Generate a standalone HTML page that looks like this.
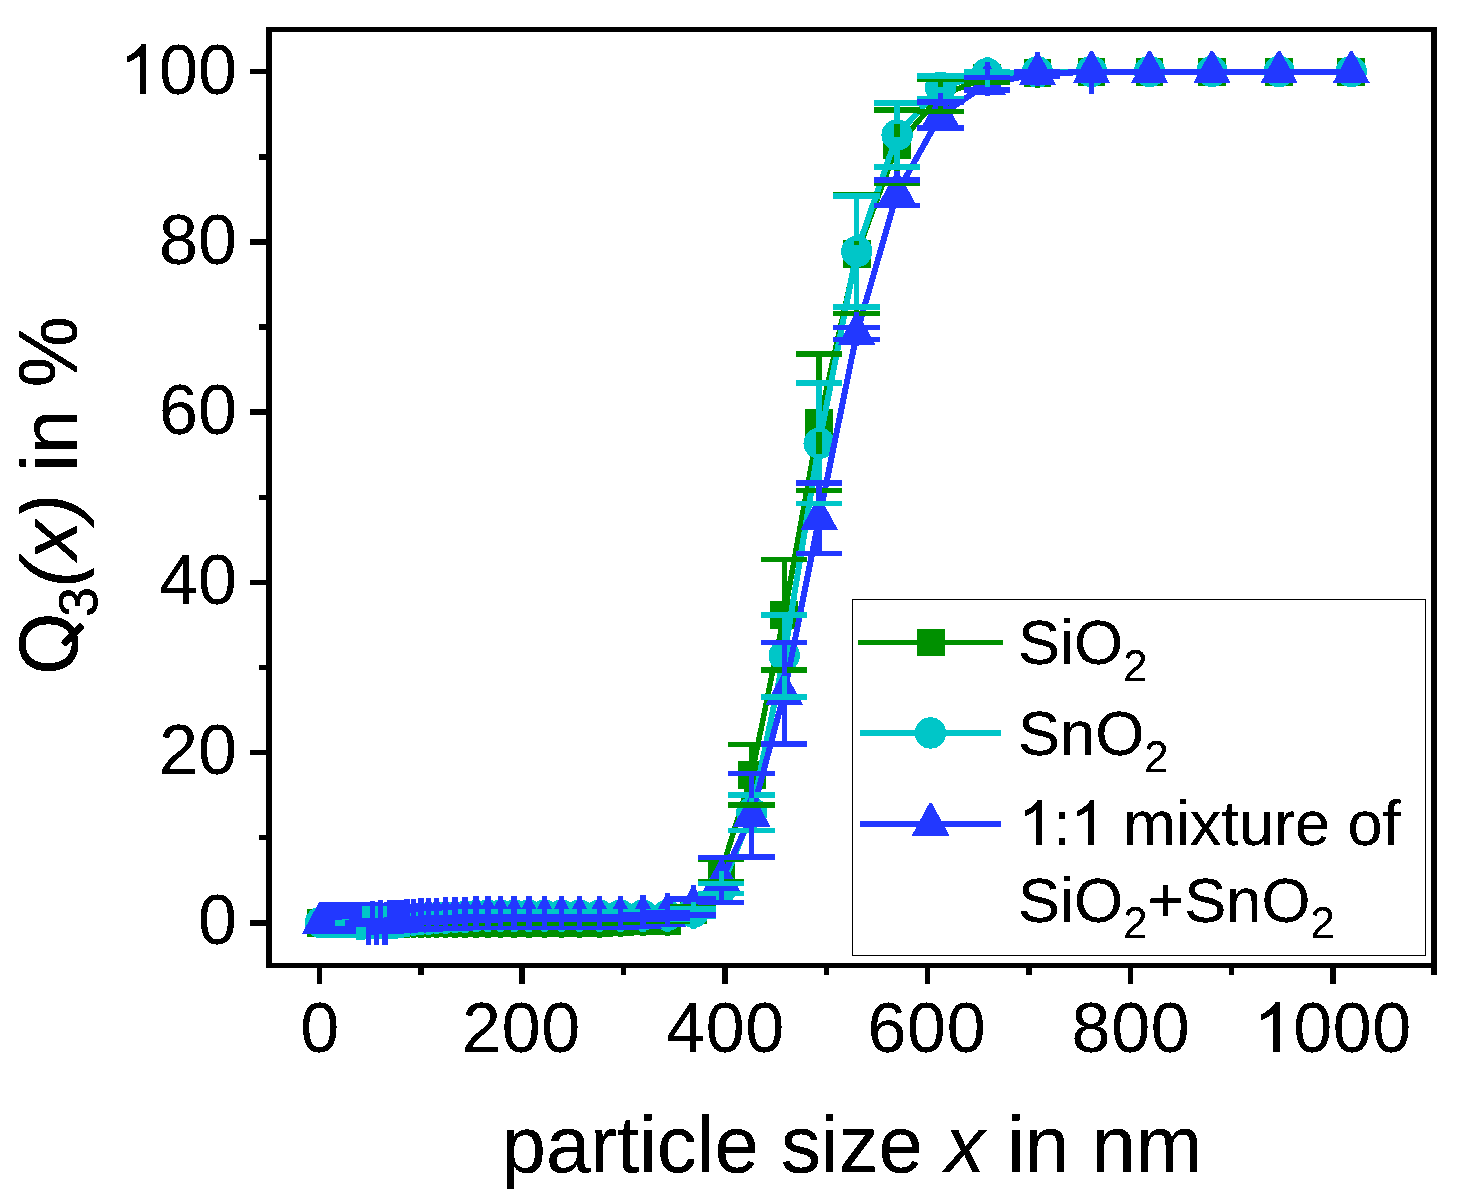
<!DOCTYPE html>
<html lang="en">
<head>
<meta charset="utf-8">
<title>Q3(x) cumulative particle size distribution</title>
<style>
html,body{margin:0;padding:0;background:#ffffff;}
body{width:1459px;height:1200px;overflow:hidden;font-family:"Liberation Sans",sans-serif;}
svg text{font-family:"Liberation Sans",sans-serif;fill:#000;}
</style>
</head>
<body>
<svg width="1459" height="1200" viewBox="0 0 1459 1200" style="display:block;font-family:'Liberation Sans',sans-serif">
<rect x="0.00" y="0.00" width="1459.00" height="1200.00" fill="#ffffff"/>
<defs><filter id="bin" x="0" y="0" width="1459" height="1200" filterUnits="userSpaceOnUse" color-interpolation-filters="sRGB"><feComponentTransfer><feFuncA type="discrete" tableValues="0 1 1"/></feComponentTransfer></filter><filter id="bin50" x="0" y="0" width="1459" height="1200" filterUnits="userSpaceOnUse" color-interpolation-filters="sRGB"><feComponentTransfer><feFuncA type="discrete" tableValues="0 0 1 1 1"/></feComponentTransfer></filter></defs>
<g shape-rendering="crispEdges">
<polyline points="1351.24,71.85 1279.08,71.85 1211.97,71.85 1149.55,71.85 1091.50,71.85 1037.50,73.00 987.28,77.30 940.58,95.50 897.14,145.50 856.74,254.00 819.17,422.30 784.22,614.85 751.72,774.80 721.49,870.45 693.37,910.20 667.22,920.90 642.90,921.30 620.28,922.00 599.25,923.10 579.68,923.10 561.48,923.10 544.56,923.10 528.82,923.10 514.18,923.10 500.56,923.10 487.90,923.10 476.12,923.10 465.17,923.10 454.98,923.10 445.50,923.10 436.69,923.10 428.49,923.10 420.87,923.10 413.78,923.10 407.19,923.10 401.05,922.90 395.35,922.90 390.05,922.90 385.11,922.90 380.52,922.90 376.25,922.90 372.29,922.90 368.59,922.90 365.16,922.90 361.97,922.90 359.00,922.90 356.23,922.90 353.66,922.90 351.28,922.90 349.05,922.90 346.99,922.90 345.06,922.90 343.28,922.90 341.61,922.90 340.07,922.90 338.63,922.90 337.29,922.90 336.05,922.90 334.89,922.90 333.81,922.90 332.81,922.90 331.88,922.90 331.01,922.90 330.21,922.90 329.46,922.90 328.76,922.90 328.12,922.90 327.51,922.90 326.95,922.90 326.43,922.90 325.95,922.90 325.50,922.90 325.08,922.90 324.69,922.90 324.32,922.90 323.99,922.90 323.67,922.90 323.38,922.90 323.11,922.90 322.86,922.90 322.62,922.90 322.40,922.90 322.20,922.90 322.01,922.90 321.84,922.90 321.67,922.90 321.52,922.90 321.38,922.90 321.25,922.90 321.13,922.90 321.01,922.90 320.91,922.90 320.81,922.90 320.72,922.90 320.63,922.90 320.55,922.90" fill="none" stroke="#009000" stroke-width="5.5" stroke-linejoin="round"/>
<rect x="306.75" y="909.10" width="27.60" height="27.60" fill="#009000"/>
<rect x="306.83" y="909.10" width="27.60" height="27.60" fill="#009000"/>
<rect x="306.92" y="909.10" width="27.60" height="27.60" fill="#009000"/>
<rect x="307.01" y="909.10" width="27.60" height="27.60" fill="#009000"/>
<rect x="307.11" y="909.10" width="27.60" height="27.60" fill="#009000"/>
<rect x="307.21" y="909.10" width="27.60" height="27.60" fill="#009000"/>
<rect x="307.33" y="909.10" width="27.60" height="27.60" fill="#009000"/>
<rect x="307.45" y="909.10" width="27.60" height="27.60" fill="#009000"/>
<rect x="307.58" y="909.10" width="27.60" height="27.60" fill="#009000"/>
<rect x="307.72" y="909.10" width="27.60" height="27.60" fill="#009000"/>
<rect x="307.87" y="909.10" width="27.60" height="27.60" fill="#009000"/>
<rect x="308.04" y="909.10" width="27.60" height="27.60" fill="#009000"/>
<rect x="308.21" y="909.10" width="27.60" height="27.60" fill="#009000"/>
<rect x="308.40" y="909.10" width="27.60" height="27.60" fill="#009000"/>
<rect x="308.60" y="909.10" width="27.60" height="27.60" fill="#009000"/>
<rect x="308.82" y="909.10" width="27.60" height="27.60" fill="#009000"/>
<rect x="309.06" y="909.10" width="27.60" height="27.60" fill="#009000"/>
<rect x="309.31" y="909.10" width="27.60" height="27.60" fill="#009000"/>
<rect x="309.58" y="909.10" width="27.60" height="27.60" fill="#009000"/>
<rect x="309.87" y="909.10" width="27.60" height="27.60" fill="#009000"/>
<rect x="310.19" y="909.10" width="27.60" height="27.60" fill="#009000"/>
<rect x="310.52" y="909.10" width="27.60" height="27.60" fill="#009000"/>
<rect x="310.89" y="909.10" width="27.60" height="27.60" fill="#009000"/>
<rect x="311.28" y="909.10" width="27.60" height="27.60" fill="#009000"/>
<rect x="311.70" y="909.10" width="27.60" height="27.60" fill="#009000"/>
<rect x="312.15" y="909.10" width="27.60" height="27.60" fill="#009000"/>
<rect x="312.63" y="909.10" width="27.60" height="27.60" fill="#009000"/>
<rect x="313.15" y="909.10" width="27.60" height="27.60" fill="#009000"/>
<rect x="313.71" y="909.10" width="27.60" height="27.60" fill="#009000"/>
<rect x="314.32" y="909.10" width="27.60" height="27.60" fill="#009000"/>
<rect x="314.96" y="909.10" width="27.60" height="27.60" fill="#009000"/>
<rect x="315.66" y="909.10" width="27.60" height="27.60" fill="#009000"/>
<rect x="316.41" y="909.10" width="27.60" height="27.60" fill="#009000"/>
<rect x="317.21" y="909.10" width="27.60" height="27.60" fill="#009000"/>
<rect x="318.08" y="909.10" width="27.60" height="27.60" fill="#009000"/>
<rect x="319.01" y="909.10" width="27.60" height="27.60" fill="#009000"/>
<rect x="320.01" y="909.10" width="27.60" height="27.60" fill="#009000"/>
<rect x="321.09" y="909.10" width="27.60" height="27.60" fill="#009000"/>
<rect x="322.25" y="909.10" width="27.60" height="27.60" fill="#009000"/>
<rect x="323.49" y="909.10" width="27.60" height="27.60" fill="#009000"/>
<rect x="324.83" y="909.10" width="27.60" height="27.60" fill="#009000"/>
<rect x="326.27" y="909.10" width="27.60" height="27.60" fill="#009000"/>
<rect x="327.81" y="909.10" width="27.60" height="27.60" fill="#009000"/>
<rect x="329.48" y="909.10" width="27.60" height="27.60" fill="#009000"/>
<rect x="331.26" y="909.10" width="27.60" height="27.60" fill="#009000"/>
<rect x="333.19" y="909.10" width="27.60" height="27.60" fill="#009000"/>
<rect x="335.25" y="909.10" width="27.60" height="27.60" fill="#009000"/>
<rect x="337.48" y="909.10" width="27.60" height="27.60" fill="#009000"/>
<rect x="339.86" y="909.10" width="27.60" height="27.60" fill="#009000"/>
<rect x="342.43" y="909.10" width="27.60" height="27.60" fill="#009000"/>
<rect x="345.20" y="909.10" width="27.60" height="27.60" fill="#009000"/>
<rect x="348.17" y="909.10" width="27.60" height="27.60" fill="#009000"/>
<rect x="351.36" y="909.10" width="27.60" height="27.60" fill="#009000"/>
<rect x="354.79" y="909.10" width="27.60" height="27.60" fill="#009000"/>
<rect x="358.49" y="909.10" width="27.60" height="27.60" fill="#009000"/>
<rect x="362.45" y="909.10" width="27.60" height="27.60" fill="#009000"/>
<rect x="366.72" y="909.10" width="27.60" height="27.60" fill="#009000"/>
<rect x="371.31" y="909.10" width="27.60" height="27.60" fill="#009000"/>
<rect x="376.25" y="909.10" width="27.60" height="27.60" fill="#009000"/>
<rect x="381.55" y="909.10" width="27.60" height="27.60" fill="#009000"/>
<rect x="387.25" y="909.10" width="27.60" height="27.60" fill="#009000"/>
<rect x="393.39" y="909.30" width="27.60" height="27.60" fill="#009000"/>
<rect x="399.98" y="909.30" width="27.60" height="27.60" fill="#009000"/>
<rect x="407.07" y="909.30" width="27.60" height="27.60" fill="#009000"/>
<rect x="414.69" y="909.30" width="27.60" height="27.60" fill="#009000"/>
<rect x="422.89" y="909.30" width="27.60" height="27.60" fill="#009000"/>
<rect x="431.70" y="909.30" width="27.60" height="27.60" fill="#009000"/>
<rect x="441.18" y="909.30" width="27.60" height="27.60" fill="#009000"/>
<rect x="451.37" y="909.30" width="27.60" height="27.60" fill="#009000"/>
<rect x="462.32" y="909.30" width="27.60" height="27.60" fill="#009000"/>
<rect x="474.10" y="909.30" width="27.60" height="27.60" fill="#009000"/>
<rect x="486.76" y="909.30" width="27.60" height="27.60" fill="#009000"/>
<rect x="500.38" y="909.30" width="27.60" height="27.60" fill="#009000"/>
<rect x="515.02" y="909.30" width="27.60" height="27.60" fill="#009000"/>
<rect x="530.76" y="909.30" width="27.60" height="27.60" fill="#009000"/>
<rect x="547.68" y="909.30" width="27.60" height="27.60" fill="#009000"/>
<rect x="565.88" y="909.30" width="27.60" height="27.60" fill="#009000"/>
<rect x="585.45" y="909.30" width="27.60" height="27.60" fill="#009000"/>
<rect x="606.48" y="908.20" width="27.60" height="27.60" fill="#009000"/>
<rect x="629.10" y="907.50" width="27.60" height="27.60" fill="#009000"/>
<rect x="653.42" y="907.10" width="27.60" height="27.60" fill="#009000"/>
<rect x="679.57" y="896.40" width="27.60" height="27.60" fill="#009000"/>
<rect x="707.69" y="856.65" width="27.60" height="27.60" fill="#009000"/>
<rect x="737.92" y="761.00" width="27.60" height="27.60" fill="#009000"/>
<rect x="770.42" y="601.05" width="27.60" height="27.60" fill="#009000"/>
<rect x="805.37" y="408.50" width="27.60" height="27.60" fill="#009000"/>
<rect x="842.94" y="240.20" width="27.60" height="27.60" fill="#009000"/>
<rect x="883.34" y="131.70" width="27.60" height="27.60" fill="#009000"/>
<rect x="926.78" y="81.70" width="27.60" height="27.60" fill="#009000"/>
<rect x="973.48" y="63.50" width="27.60" height="27.60" fill="#009000"/>
<rect x="1023.70" y="59.20" width="27.60" height="27.60" fill="#009000"/>
<rect x="1077.70" y="58.05" width="27.60" height="27.60" fill="#009000"/>
<rect x="1135.75" y="58.05" width="27.60" height="27.60" fill="#009000"/>
<rect x="1198.17" y="58.05" width="27.60" height="27.60" fill="#009000"/>
<rect x="1265.28" y="58.05" width="27.60" height="27.60" fill="#009000"/>
<rect x="1337.44" y="58.05" width="27.60" height="27.60" fill="#009000"/>
<polyline points="1351.24,71.50 1279.08,71.50 1211.97,71.50 1149.55,71.50 1091.50,71.50 1037.50,72.00 987.28,73.50 940.58,87.20 897.14,135.00 856.74,251.50 819.17,443.25 784.22,655.80 751.72,812.70 721.49,888.45 693.37,912.30 667.22,915.30 642.90,915.20 620.28,915.20 599.25,915.20 579.68,915.20 561.48,915.20 544.56,915.20 528.82,915.20 514.18,915.20 500.56,915.20 487.90,915.20 476.12,915.69 465.17,916.35 454.98,916.86 445.50,917.37 436.69,917.88 428.49,918.54 420.87,918.70 413.78,919.37 407.19,920.08 401.05,921.30 395.35,922.70 390.05,922.70 385.11,922.70 380.52,922.70 376.25,922.70 372.29,922.70 368.59,922.70 365.16,922.70 361.97,922.90 359.00,922.90 356.23,922.50 353.66,922.50 351.28,922.50 349.05,922.50 346.99,922.50 345.06,922.50 343.28,922.50 341.61,922.50 340.07,922.50 338.63,922.50 337.29,922.50 336.05,922.50 334.89,922.50 333.81,922.50 332.81,922.50 331.88,922.50 331.01,922.50 330.21,922.50 329.46,922.50 328.76,922.50 328.12,922.50 327.51,922.50 326.95,922.50 326.43,922.50 325.95,922.50 325.50,922.50 325.08,922.50 324.69,922.50 324.32,922.50 323.99,922.50 323.67,922.50 323.38,922.50 323.11,922.50 322.86,922.50 322.62,922.50 322.40,922.50 322.20,922.50 322.01,922.50 321.84,922.50 321.67,922.50 321.52,922.50 321.38,922.50 321.25,922.50 321.13,922.50 321.01,922.50 320.91,922.50 320.81,922.50 320.72,922.50 320.63,922.50 320.55,922.50" fill="none" stroke="#00C6C8" stroke-width="6.0" stroke-linejoin="round"/>
<circle cx="320.55" cy="922.50" r="15.7" fill="#00C6C8"/>
<circle cx="320.63" cy="922.50" r="15.7" fill="#00C6C8"/>
<circle cx="320.72" cy="922.50" r="15.7" fill="#00C6C8"/>
<circle cx="320.81" cy="922.50" r="15.7" fill="#00C6C8"/>
<circle cx="320.91" cy="922.50" r="15.7" fill="#00C6C8"/>
<circle cx="321.01" cy="922.50" r="15.7" fill="#00C6C8"/>
<circle cx="321.13" cy="922.50" r="15.7" fill="#00C6C8"/>
<circle cx="321.25" cy="922.50" r="15.7" fill="#00C6C8"/>
<circle cx="321.38" cy="922.50" r="15.7" fill="#00C6C8"/>
<circle cx="321.52" cy="922.50" r="15.7" fill="#00C6C8"/>
<circle cx="321.67" cy="922.50" r="15.7" fill="#00C6C8"/>
<circle cx="321.84" cy="922.50" r="15.7" fill="#00C6C8"/>
<circle cx="322.01" cy="922.50" r="15.7" fill="#00C6C8"/>
<circle cx="322.20" cy="922.50" r="15.7" fill="#00C6C8"/>
<circle cx="322.40" cy="922.50" r="15.7" fill="#00C6C8"/>
<circle cx="322.62" cy="922.50" r="15.7" fill="#00C6C8"/>
<circle cx="322.86" cy="922.50" r="15.7" fill="#00C6C8"/>
<circle cx="323.11" cy="922.50" r="15.7" fill="#00C6C8"/>
<circle cx="323.38" cy="922.50" r="15.7" fill="#00C6C8"/>
<circle cx="323.67" cy="922.50" r="15.7" fill="#00C6C8"/>
<circle cx="323.99" cy="922.50" r="15.7" fill="#00C6C8"/>
<circle cx="324.32" cy="922.50" r="15.7" fill="#00C6C8"/>
<circle cx="324.69" cy="922.50" r="15.7" fill="#00C6C8"/>
<circle cx="325.08" cy="922.50" r="15.7" fill="#00C6C8"/>
<circle cx="325.50" cy="922.50" r="15.7" fill="#00C6C8"/>
<circle cx="325.95" cy="922.50" r="15.7" fill="#00C6C8"/>
<circle cx="326.43" cy="922.50" r="15.7" fill="#00C6C8"/>
<circle cx="326.95" cy="922.50" r="15.7" fill="#00C6C8"/>
<circle cx="327.51" cy="922.50" r="15.7" fill="#00C6C8"/>
<circle cx="328.12" cy="922.50" r="15.7" fill="#00C6C8"/>
<circle cx="328.76" cy="922.50" r="15.7" fill="#00C6C8"/>
<circle cx="329.46" cy="922.50" r="15.7" fill="#00C6C8"/>
<circle cx="330.21" cy="922.50" r="15.7" fill="#00C6C8"/>
<circle cx="331.01" cy="922.50" r="15.7" fill="#00C6C8"/>
<circle cx="331.88" cy="922.50" r="15.7" fill="#00C6C8"/>
<circle cx="332.81" cy="922.50" r="15.7" fill="#00C6C8"/>
<circle cx="333.81" cy="922.50" r="15.7" fill="#00C6C8"/>
<circle cx="334.89" cy="922.50" r="15.7" fill="#00C6C8"/>
<circle cx="336.05" cy="922.50" r="15.7" fill="#00C6C8"/>
<circle cx="337.29" cy="922.50" r="15.7" fill="#00C6C8"/>
<circle cx="338.63" cy="922.50" r="15.7" fill="#00C6C8"/>
<circle cx="340.07" cy="922.50" r="15.7" fill="#00C6C8"/>
<circle cx="341.61" cy="922.50" r="15.7" fill="#00C6C8"/>
<circle cx="343.28" cy="922.50" r="15.7" fill="#00C6C8"/>
<circle cx="345.06" cy="922.50" r="15.7" fill="#00C6C8"/>
<circle cx="346.99" cy="922.50" r="15.7" fill="#00C6C8"/>
<circle cx="349.05" cy="922.50" r="15.7" fill="#00C6C8"/>
<circle cx="351.28" cy="922.50" r="15.7" fill="#00C6C8"/>
<circle cx="353.66" cy="922.50" r="15.7" fill="#00C6C8"/>
<circle cx="356.23" cy="922.50" r="15.7" fill="#00C6C8"/>
<circle cx="359.00" cy="922.90" r="15.7" fill="#00C6C8"/>
<circle cx="361.97" cy="922.90" r="15.7" fill="#00C6C8"/>
<circle cx="365.16" cy="922.70" r="15.7" fill="#00C6C8"/>
<circle cx="368.59" cy="922.70" r="15.7" fill="#00C6C8"/>
<circle cx="372.29" cy="922.70" r="15.7" fill="#00C6C8"/>
<circle cx="376.25" cy="922.70" r="15.7" fill="#00C6C8"/>
<circle cx="380.52" cy="922.70" r="15.7" fill="#00C6C8"/>
<circle cx="385.11" cy="922.70" r="15.7" fill="#00C6C8"/>
<circle cx="390.05" cy="922.70" r="15.7" fill="#00C6C8"/>
<circle cx="395.35" cy="922.70" r="15.7" fill="#00C6C8"/>
<circle cx="401.05" cy="921.30" r="15.7" fill="#00C6C8"/>
<circle cx="407.19" cy="920.08" r="15.7" fill="#00C6C8"/>
<circle cx="413.78" cy="919.37" r="15.7" fill="#00C6C8"/>
<circle cx="420.87" cy="918.70" r="15.7" fill="#00C6C8"/>
<circle cx="428.49" cy="918.54" r="15.7" fill="#00C6C8"/>
<circle cx="436.69" cy="917.88" r="15.7" fill="#00C6C8"/>
<circle cx="445.50" cy="917.37" r="15.7" fill="#00C6C8"/>
<circle cx="454.98" cy="916.86" r="15.7" fill="#00C6C8"/>
<circle cx="465.17" cy="916.35" r="15.7" fill="#00C6C8"/>
<circle cx="476.12" cy="915.69" r="15.7" fill="#00C6C8"/>
<circle cx="487.90" cy="915.20" r="15.7" fill="#00C6C8"/>
<circle cx="500.56" cy="915.20" r="15.7" fill="#00C6C8"/>
<circle cx="514.18" cy="915.20" r="15.7" fill="#00C6C8"/>
<circle cx="528.82" cy="915.20" r="15.7" fill="#00C6C8"/>
<circle cx="544.56" cy="915.20" r="15.7" fill="#00C6C8"/>
<circle cx="561.48" cy="915.20" r="15.7" fill="#00C6C8"/>
<circle cx="579.68" cy="915.20" r="15.7" fill="#00C6C8"/>
<circle cx="599.25" cy="915.20" r="15.7" fill="#00C6C8"/>
<circle cx="620.28" cy="915.20" r="15.7" fill="#00C6C8"/>
<circle cx="642.90" cy="915.20" r="15.7" fill="#00C6C8"/>
<circle cx="667.22" cy="915.30" r="15.7" fill="#00C6C8"/>
<circle cx="693.37" cy="912.30" r="15.7" fill="#00C6C8"/>
<circle cx="721.49" cy="888.45" r="15.7" fill="#00C6C8"/>
<circle cx="751.72" cy="812.70" r="15.7" fill="#00C6C8"/>
<circle cx="784.22" cy="655.80" r="15.7" fill="#00C6C8"/>
<circle cx="819.17" cy="443.25" r="15.7" fill="#00C6C8"/>
<circle cx="856.74" cy="251.50" r="15.7" fill="#00C6C8"/>
<circle cx="897.14" cy="135.00" r="15.7" fill="#00C6C8"/>
<circle cx="940.58" cy="87.20" r="15.7" fill="#00C6C8"/>
<circle cx="987.28" cy="73.50" r="15.7" fill="#00C6C8"/>
<circle cx="1037.50" cy="72.00" r="15.7" fill="#00C6C8"/>
<circle cx="1091.50" cy="71.50" r="15.7" fill="#00C6C8"/>
<circle cx="1149.55" cy="71.50" r="15.7" fill="#00C6C8"/>
<circle cx="1211.97" cy="71.50" r="15.7" fill="#00C6C8"/>
<circle cx="1279.08" cy="71.50" r="15.7" fill="#00C6C8"/>
<circle cx="1351.24" cy="71.50" r="15.7" fill="#00C6C8"/>
<polyline points="1351.24,71.90 1279.08,71.90 1211.97,71.90 1149.55,71.90 1091.50,71.90 1037.50,73.70 987.28,83.70 940.58,115.10 897.14,192.65 856.74,333.50 819.17,518.35 784.22,693.45 751.72,815.25 721.49,879.90 693.37,907.20 667.22,915.20 642.90,917.20 620.28,918.10 599.25,918.10 579.68,918.10 561.48,918.10 544.56,918.10 528.82,918.10 514.18,918.10 500.56,918.10 487.90,918.10 476.12,918.42 465.17,918.74 454.98,919.07 445.50,919.39 436.69,919.71 428.49,920.03 420.87,920.36 413.78,920.68 407.19,921.00 401.05,921.60 395.35,922.00 390.05,922.00 385.11,922.80 380.52,922.00 376.25,922.80 372.29,922.80 368.59,922.80 365.16,922.60 361.97,922.60 359.00,922.60 356.23,922.60 353.66,922.60 351.28,922.60 349.05,922.60 346.99,922.60 345.06,922.60 343.28,922.60 341.61,922.60 340.07,922.60 338.63,922.60 337.29,922.60 336.05,922.60 334.89,922.60 333.81,922.60 332.81,922.60 331.88,922.60 331.01,922.60 330.21,922.60 329.46,922.60 328.76,922.60 328.12,922.60 327.51,922.60 326.95,922.60 326.43,922.60 325.95,922.60 325.50,922.60 325.08,922.60 324.69,922.60 324.32,922.60 323.99,922.60 323.67,922.60 323.38,922.60 323.11,922.60 322.86,922.60 322.62,922.60 322.40,922.60 322.20,922.60 322.01,922.60 321.84,922.60 321.67,922.60 321.52,922.60 321.38,922.60 321.25,922.60 321.13,922.60 321.01,922.60 320.91,922.60 320.81,922.60 320.72,922.60 320.63,922.60 320.55,922.60" fill="none" stroke="#2238FF" stroke-width="6.0" stroke-linejoin="round"/>
<polygon points="319.35,901.60 321.75,901.60 339.30,934.10 301.80,934.10" fill="#2238FF"/>
<polygon points="319.43,901.60 321.83,901.60 339.38,934.10 301.88,934.10" fill="#2238FF"/>
<polygon points="319.52,901.60 321.92,901.60 339.47,934.10 301.97,934.10" fill="#2238FF"/>
<polygon points="319.61,901.60 322.01,901.60 339.56,934.10 302.06,934.10" fill="#2238FF"/>
<polygon points="319.71,901.60 322.11,901.60 339.66,934.10 302.16,934.10" fill="#2238FF"/>
<polygon points="319.81,901.60 322.21,901.60 339.76,934.10 302.26,934.10" fill="#2238FF"/>
<polygon points="319.93,901.60 322.33,901.60 339.88,934.10 302.38,934.10" fill="#2238FF"/>
<polygon points="320.05,901.60 322.45,901.60 340.00,934.10 302.50,934.10" fill="#2238FF"/>
<polygon points="320.18,901.60 322.58,901.60 340.13,934.10 302.63,934.10" fill="#2238FF"/>
<polygon points="320.32,901.60 322.72,901.60 340.27,934.10 302.77,934.10" fill="#2238FF"/>
<polygon points="320.47,901.60 322.87,901.60 340.42,934.10 302.92,934.10" fill="#2238FF"/>
<polygon points="320.64,901.60 323.04,901.60 340.59,934.10 303.09,934.10" fill="#2238FF"/>
<polygon points="320.81,901.60 323.21,901.60 340.76,934.10 303.26,934.10" fill="#2238FF"/>
<polygon points="321.00,901.60 323.40,901.60 340.95,934.10 303.45,934.10" fill="#2238FF"/>
<polygon points="321.20,901.60 323.60,901.60 341.15,934.10 303.65,934.10" fill="#2238FF"/>
<polygon points="321.42,901.60 323.82,901.60 341.37,934.10 303.87,934.10" fill="#2238FF"/>
<polygon points="321.66,901.60 324.06,901.60 341.61,934.10 304.11,934.10" fill="#2238FF"/>
<polygon points="321.91,901.60 324.31,901.60 341.86,934.10 304.36,934.10" fill="#2238FF"/>
<polygon points="322.18,901.60 324.58,901.60 342.13,934.10 304.63,934.10" fill="#2238FF"/>
<polygon points="322.47,901.60 324.87,901.60 342.42,934.10 304.92,934.10" fill="#2238FF"/>
<polygon points="322.79,901.60 325.19,901.60 342.74,934.10 305.24,934.10" fill="#2238FF"/>
<polygon points="323.12,901.60 325.52,901.60 343.07,934.10 305.57,934.10" fill="#2238FF"/>
<polygon points="323.49,901.60 325.89,901.60 343.44,934.10 305.94,934.10" fill="#2238FF"/>
<polygon points="323.88,901.60 326.28,901.60 343.83,934.10 306.33,934.10" fill="#2238FF"/>
<polygon points="324.30,901.60 326.70,901.60 344.25,934.10 306.75,934.10" fill="#2238FF"/>
<polygon points="324.75,901.60 327.15,901.60 344.70,934.10 307.20,934.10" fill="#2238FF"/>
<polygon points="325.23,901.60 327.63,901.60 345.18,934.10 307.68,934.10" fill="#2238FF"/>
<polygon points="325.75,901.60 328.15,901.60 345.70,934.10 308.20,934.10" fill="#2238FF"/>
<polygon points="326.31,901.60 328.71,901.60 346.26,934.10 308.76,934.10" fill="#2238FF"/>
<polygon points="326.92,901.60 329.32,901.60 346.87,934.10 309.37,934.10" fill="#2238FF"/>
<polygon points="327.56,901.60 329.96,901.60 347.51,934.10 310.01,934.10" fill="#2238FF"/>
<polygon points="328.26,901.60 330.66,901.60 348.21,934.10 310.71,934.10" fill="#2238FF"/>
<polygon points="329.01,901.60 331.41,901.60 348.96,934.10 311.46,934.10" fill="#2238FF"/>
<polygon points="329.81,901.60 332.21,901.60 349.76,934.10 312.26,934.10" fill="#2238FF"/>
<polygon points="330.68,901.60 333.08,901.60 350.63,934.10 313.13,934.10" fill="#2238FF"/>
<polygon points="331.61,901.60 334.01,901.60 351.56,934.10 314.06,934.10" fill="#2238FF"/>
<polygon points="332.61,901.60 335.01,901.60 352.56,934.10 315.06,934.10" fill="#2238FF"/>
<polygon points="333.69,901.60 336.09,901.60 353.64,934.10 316.14,934.10" fill="#2238FF"/>
<polygon points="334.85,901.60 337.25,901.60 354.80,934.10 317.30,934.10" fill="#2238FF"/>
<polygon points="336.09,901.60 338.49,901.60 356.04,934.10 318.54,934.10" fill="#2238FF"/>
<polygon points="337.43,901.60 339.83,901.60 357.38,934.10 319.88,934.10" fill="#2238FF"/>
<polygon points="338.87,901.60 341.27,901.60 358.82,934.10 321.32,934.10" fill="#2238FF"/>
<polygon points="340.41,901.60 342.81,901.60 360.36,934.10 322.86,934.10" fill="#2238FF"/>
<polygon points="342.08,901.60 344.48,901.60 362.03,934.10 324.53,934.10" fill="#2238FF"/>
<polygon points="343.86,901.60 346.26,901.60 363.81,934.10 326.31,934.10" fill="#2238FF"/>
<polygon points="345.79,901.60 348.19,901.60 365.74,934.10 328.24,934.10" fill="#2238FF"/>
<polygon points="347.85,901.60 350.25,901.60 367.80,934.10 330.30,934.10" fill="#2238FF"/>
<polygon points="350.08,901.60 352.48,901.60 370.03,934.10 332.53,934.10" fill="#2238FF"/>
<polygon points="352.46,901.60 354.86,901.60 372.41,934.10 334.91,934.10" fill="#2238FF"/>
<polygon points="355.03,901.60 357.43,901.60 374.98,934.10 337.48,934.10" fill="#2238FF"/>
<polygon points="357.80,901.60 360.20,901.60 377.75,934.10 340.25,934.10" fill="#2238FF"/>
<polygon points="360.77,901.60 363.17,901.60 380.72,934.10 343.22,934.10" fill="#2238FF"/>
<polygon points="363.96,901.60 366.36,901.60 383.91,934.10 346.41,934.10" fill="#2238FF"/>
<polygon points="367.39,901.80 369.79,901.80 387.34,934.30 349.84,934.30" fill="#2238FF"/>
<polygon points="371.09,901.80 373.49,901.80 391.04,934.30 353.54,934.30" fill="#2238FF"/>
<polygon points="375.05,901.80 377.45,901.80 395.00,934.30 357.50,934.30" fill="#2238FF"/>
<polygon points="379.32,901.00 381.72,901.00 399.27,933.50 361.77,933.50" fill="#2238FF"/>
<polygon points="383.91,901.80 386.31,901.80 403.86,934.30 366.36,934.30" fill="#2238FF"/>
<polygon points="388.85,901.00 391.25,901.00 408.80,933.50 371.30,933.50" fill="#2238FF"/>
<polygon points="394.15,901.00 396.55,901.00 414.10,933.50 376.60,933.50" fill="#2238FF"/>
<polygon points="399.85,900.60 402.25,900.60 419.80,933.10 382.30,933.10" fill="#2238FF"/>
<polygon points="405.99,900.00 408.39,900.00 425.94,932.50 388.44,932.50" fill="#2238FF"/>
<polygon points="412.58,899.68 414.98,899.68 432.53,932.18 395.03,932.18" fill="#2238FF"/>
<polygon points="419.67,899.36 422.07,899.36 439.62,931.86 402.12,931.86" fill="#2238FF"/>
<polygon points="427.29,899.03 429.69,899.03 447.24,931.53 409.74,931.53" fill="#2238FF"/>
<polygon points="435.49,898.71 437.89,898.71 455.44,931.21 417.94,931.21" fill="#2238FF"/>
<polygon points="444.30,898.39 446.70,898.39 464.25,930.89 426.75,930.89" fill="#2238FF"/>
<polygon points="453.78,898.07 456.18,898.07 473.73,930.57 436.23,930.57" fill="#2238FF"/>
<polygon points="463.97,897.74 466.37,897.74 483.92,930.24 446.42,930.24" fill="#2238FF"/>
<polygon points="474.92,897.42 477.32,897.42 494.87,929.92 457.37,929.92" fill="#2238FF"/>
<polygon points="486.70,897.10 489.10,897.10 506.65,929.60 469.15,929.60" fill="#2238FF"/>
<polygon points="499.36,897.10 501.76,897.10 519.31,929.60 481.81,929.60" fill="#2238FF"/>
<polygon points="512.98,897.10 515.38,897.10 532.93,929.60 495.43,929.60" fill="#2238FF"/>
<polygon points="527.62,897.10 530.02,897.10 547.57,929.60 510.07,929.60" fill="#2238FF"/>
<polygon points="543.36,897.10 545.76,897.10 563.31,929.60 525.81,929.60" fill="#2238FF"/>
<polygon points="560.28,897.10 562.68,897.10 580.23,929.60 542.73,929.60" fill="#2238FF"/>
<polygon points="578.48,897.10 580.88,897.10 598.43,929.60 560.93,929.60" fill="#2238FF"/>
<polygon points="598.05,897.10 600.45,897.10 618.00,929.60 580.50,929.60" fill="#2238FF"/>
<polygon points="619.08,897.10 621.48,897.10 639.03,929.60 601.53,929.60" fill="#2238FF"/>
<polygon points="641.70,896.20 644.10,896.20 661.65,928.70 624.15,928.70" fill="#2238FF"/>
<polygon points="666.02,894.20 668.42,894.20 685.97,926.70 648.47,926.70" fill="#2238FF"/>
<polygon points="692.17,886.20 694.57,886.20 712.12,918.70 674.62,918.70" fill="#2238FF"/>
<polygon points="720.29,858.90 722.69,858.90 740.24,891.40 702.74,891.40" fill="#2238FF"/>
<polygon points="750.52,794.25 752.92,794.25 770.47,826.75 732.97,826.75" fill="#2238FF"/>
<polygon points="783.02,672.45 785.42,672.45 802.97,704.95 765.47,704.95" fill="#2238FF"/>
<polygon points="817.97,497.35 820.37,497.35 837.92,529.85 800.42,529.85" fill="#2238FF"/>
<polygon points="855.54,312.50 857.94,312.50 875.49,345.00 837.99,345.00" fill="#2238FF"/>
<polygon points="895.94,171.65 898.34,171.65 915.89,204.15 878.39,204.15" fill="#2238FF"/>
<polygon points="939.38,94.10 941.78,94.10 959.33,126.60 921.83,126.60" fill="#2238FF"/>
<polygon points="986.08,62.70 988.48,62.70 1006.03,95.20 968.53,95.20" fill="#2238FF"/>
<polygon points="1036.30,52.70 1038.70,52.70 1056.25,85.20 1018.75,85.20" fill="#2238FF"/>
<polygon points="1090.30,50.90 1092.70,50.90 1110.25,83.40 1072.75,83.40" fill="#2238FF"/>
<polygon points="1148.35,50.90 1150.75,50.90 1168.30,83.40 1130.80,83.40" fill="#2238FF"/>
<polygon points="1210.77,50.90 1213.17,50.90 1230.72,83.40 1193.22,83.40" fill="#2238FF"/>
<polygon points="1277.88,50.90 1280.28,50.90 1297.83,83.40 1260.33,83.40" fill="#2238FF"/>
<polygon points="1350.04,50.90 1352.44,50.90 1369.99,83.40 1332.49,83.40" fill="#2238FF"/>
<rect x="1034.80" y="58.20" width="5.40" height="14.30" fill="#009000"/>
<rect x="1034.80" y="73.50" width="5.40" height="14.30" fill="#009000"/>
<rect x="1013.95" y="69.75" width="46.50" height="5.50" fill="#009000"/>
<rect x="1013.95" y="70.75" width="46.50" height="5.50" fill="#009000"/>
<rect x="984.58" y="62.50" width="5.40" height="9.80" fill="#009000"/>
<rect x="984.58" y="82.30" width="5.40" height="9.80" fill="#009000"/>
<rect x="963.73" y="69.55" width="46.50" height="5.50" fill="#009000"/>
<rect x="963.73" y="79.55" width="46.50" height="5.50" fill="#009000"/>
<rect x="937.88" y="79.40" width="5.40" height="7.10" fill="#009000"/>
<rect x="937.88" y="105.50" width="5.40" height="6.10" fill="#009000"/>
<rect x="917.03" y="76.65" width="46.50" height="5.50" fill="#009000"/>
<rect x="917.03" y="108.85" width="46.50" height="5.50" fill="#009000"/>
<rect x="894.44" y="110.00" width="5.40" height="26.50" fill="#009000"/>
<rect x="894.44" y="155.50" width="5.40" height="27.70" fill="#009000"/>
<rect x="873.59" y="107.25" width="46.50" height="5.50" fill="#009000"/>
<rect x="873.59" y="180.45" width="46.50" height="5.50" fill="#009000"/>
<rect x="854.04" y="194.30" width="5.40" height="50.70" fill="#009000"/>
<rect x="854.04" y="264.00" width="5.40" height="49.70" fill="#009000"/>
<rect x="833.19" y="191.55" width="46.50" height="5.50" fill="#009000"/>
<rect x="833.19" y="310.95" width="46.50" height="5.50" fill="#009000"/>
<rect x="816.47" y="353.90" width="5.40" height="59.40" fill="#009000"/>
<rect x="816.47" y="432.30" width="5.40" height="58.40" fill="#009000"/>
<rect x="795.62" y="351.15" width="46.50" height="5.50" fill="#009000"/>
<rect x="795.62" y="487.95" width="46.50" height="5.50" fill="#009000"/>
<rect x="781.52" y="559.50" width="5.40" height="46.35" fill="#009000"/>
<rect x="781.52" y="624.85" width="5.40" height="45.35" fill="#009000"/>
<rect x="760.67" y="556.75" width="46.50" height="5.50" fill="#009000"/>
<rect x="760.67" y="667.45" width="46.50" height="5.50" fill="#009000"/>
<rect x="749.02" y="744.60" width="5.40" height="21.20" fill="#009000"/>
<rect x="749.02" y="784.80" width="5.40" height="20.20" fill="#009000"/>
<rect x="728.17" y="741.85" width="46.50" height="5.50" fill="#009000"/>
<rect x="728.17" y="802.25" width="46.50" height="5.50" fill="#009000"/>
<rect x="718.79" y="859.30" width="5.40" height="2.15" fill="#009000"/>
<rect x="718.79" y="880.45" width="5.40" height="1.15" fill="#009000"/>
<rect x="697.94" y="856.55" width="46.50" height="5.50" fill="#009000"/>
<rect x="697.94" y="878.85" width="46.50" height="5.50" fill="#009000"/>
<rect x="690.67" y="895.40" width="5.40" height="11.10" fill="#009000"/>
<rect x="690.67" y="913.90" width="5.40" height="11.10" fill="#009000"/>
<rect x="669.82" y="903.75" width="46.50" height="5.50" fill="#009000"/>
<rect x="669.82" y="911.15" width="46.50" height="5.50" fill="#009000"/>
<rect x="664.52" y="906.10" width="5.40" height="14.30" fill="#009000"/>
<rect x="664.52" y="921.40" width="5.40" height="14.30" fill="#009000"/>
<rect x="643.67" y="917.65" width="46.50" height="5.50" fill="#009000"/>
<rect x="643.67" y="918.65" width="46.50" height="5.50" fill="#009000"/>
<rect x="640.20" y="906.50" width="5.40" height="14.40" fill="#009000"/>
<rect x="640.20" y="921.70" width="5.40" height="14.40" fill="#009000"/>
<rect x="619.35" y="918.15" width="46.50" height="5.50" fill="#009000"/>
<rect x="619.35" y="918.95" width="46.50" height="5.50" fill="#009000"/>
<rect x="617.58" y="907.20" width="5.40" height="14.50" fill="#009000"/>
<rect x="617.58" y="922.30" width="5.40" height="14.50" fill="#009000"/>
<rect x="596.73" y="918.95" width="46.50" height="5.50" fill="#009000"/>
<rect x="596.73" y="919.55" width="46.50" height="5.50" fill="#009000"/>
<rect x="596.55" y="908.30" width="5.40" height="14.50" fill="#009000"/>
<rect x="596.55" y="923.40" width="5.40" height="14.50" fill="#009000"/>
<rect x="575.70" y="920.05" width="46.50" height="5.50" fill="#009000"/>
<rect x="575.70" y="920.65" width="46.50" height="5.50" fill="#009000"/>
<rect x="576.98" y="908.30" width="5.40" height="14.50" fill="#009000"/>
<rect x="576.98" y="923.40" width="5.40" height="14.50" fill="#009000"/>
<rect x="556.13" y="920.05" width="46.50" height="5.50" fill="#009000"/>
<rect x="556.13" y="920.65" width="46.50" height="5.50" fill="#009000"/>
<rect x="558.78" y="908.30" width="5.40" height="14.50" fill="#009000"/>
<rect x="558.78" y="923.40" width="5.40" height="14.50" fill="#009000"/>
<rect x="537.93" y="920.05" width="46.50" height="5.50" fill="#009000"/>
<rect x="537.93" y="920.65" width="46.50" height="5.50" fill="#009000"/>
<rect x="541.86" y="908.30" width="5.40" height="14.50" fill="#009000"/>
<rect x="541.86" y="923.40" width="5.40" height="14.50" fill="#009000"/>
<rect x="521.01" y="920.05" width="46.50" height="5.50" fill="#009000"/>
<rect x="521.01" y="920.65" width="46.50" height="5.50" fill="#009000"/>
<rect x="526.12" y="908.30" width="5.40" height="14.50" fill="#009000"/>
<rect x="526.12" y="923.40" width="5.40" height="14.50" fill="#009000"/>
<rect x="505.27" y="920.05" width="46.50" height="5.50" fill="#009000"/>
<rect x="505.27" y="920.65" width="46.50" height="5.50" fill="#009000"/>
<rect x="511.48" y="908.30" width="5.40" height="14.50" fill="#009000"/>
<rect x="511.48" y="923.40" width="5.40" height="14.50" fill="#009000"/>
<rect x="490.63" y="920.05" width="46.50" height="5.50" fill="#009000"/>
<rect x="490.63" y="920.65" width="46.50" height="5.50" fill="#009000"/>
<rect x="497.86" y="908.30" width="5.40" height="14.50" fill="#009000"/>
<rect x="497.86" y="923.40" width="5.40" height="14.50" fill="#009000"/>
<rect x="477.01" y="920.05" width="46.50" height="5.50" fill="#009000"/>
<rect x="477.01" y="920.65" width="46.50" height="5.50" fill="#009000"/>
<rect x="485.20" y="908.30" width="5.40" height="14.50" fill="#009000"/>
<rect x="485.20" y="923.40" width="5.40" height="14.50" fill="#009000"/>
<rect x="464.35" y="920.05" width="46.50" height="5.50" fill="#009000"/>
<rect x="464.35" y="920.65" width="46.50" height="5.50" fill="#009000"/>
<rect x="473.42" y="908.30" width="5.40" height="14.50" fill="#009000"/>
<rect x="473.42" y="923.40" width="5.40" height="14.50" fill="#009000"/>
<rect x="452.57" y="920.05" width="46.50" height="5.50" fill="#009000"/>
<rect x="452.57" y="920.65" width="46.50" height="5.50" fill="#009000"/>
<rect x="462.47" y="908.30" width="5.40" height="14.50" fill="#009000"/>
<rect x="462.47" y="923.40" width="5.40" height="14.50" fill="#009000"/>
<rect x="441.62" y="920.05" width="46.50" height="5.50" fill="#009000"/>
<rect x="441.62" y="920.65" width="46.50" height="5.50" fill="#009000"/>
<rect x="452.28" y="908.30" width="5.40" height="14.50" fill="#009000"/>
<rect x="452.28" y="923.40" width="5.40" height="14.50" fill="#009000"/>
<rect x="431.43" y="920.05" width="46.50" height="5.50" fill="#009000"/>
<rect x="431.43" y="920.65" width="46.50" height="5.50" fill="#009000"/>
<rect x="442.80" y="908.30" width="5.40" height="14.50" fill="#009000"/>
<rect x="442.80" y="923.40" width="5.40" height="14.50" fill="#009000"/>
<rect x="421.95" y="920.05" width="46.50" height="5.50" fill="#009000"/>
<rect x="421.95" y="920.65" width="46.50" height="5.50" fill="#009000"/>
<rect x="433.99" y="908.30" width="5.40" height="14.50" fill="#009000"/>
<rect x="433.99" y="923.40" width="5.40" height="14.50" fill="#009000"/>
<rect x="413.14" y="920.05" width="46.50" height="5.50" fill="#009000"/>
<rect x="413.14" y="920.65" width="46.50" height="5.50" fill="#009000"/>
<rect x="425.79" y="908.30" width="5.40" height="14.50" fill="#009000"/>
<rect x="425.79" y="923.40" width="5.40" height="14.50" fill="#009000"/>
<rect x="404.94" y="920.05" width="46.50" height="5.50" fill="#009000"/>
<rect x="404.94" y="920.65" width="46.50" height="5.50" fill="#009000"/>
<rect x="418.17" y="908.30" width="5.40" height="14.50" fill="#009000"/>
<rect x="418.17" y="923.40" width="5.40" height="14.50" fill="#009000"/>
<rect x="397.32" y="920.05" width="46.50" height="5.50" fill="#009000"/>
<rect x="397.32" y="920.65" width="46.50" height="5.50" fill="#009000"/>
<rect x="411.08" y="908.30" width="5.40" height="14.50" fill="#009000"/>
<rect x="411.08" y="923.40" width="5.40" height="14.50" fill="#009000"/>
<rect x="390.23" y="920.05" width="46.50" height="5.50" fill="#009000"/>
<rect x="390.23" y="920.65" width="46.50" height="5.50" fill="#009000"/>
<rect x="404.49" y="908.30" width="5.40" height="14.50" fill="#009000"/>
<rect x="404.49" y="923.40" width="5.40" height="14.50" fill="#009000"/>
<rect x="383.64" y="920.05" width="46.50" height="5.50" fill="#009000"/>
<rect x="383.64" y="920.65" width="46.50" height="5.50" fill="#009000"/>
<rect x="984.58" y="56.50" width="5.40" height="15.50" fill="#00C6C8"/>
<rect x="984.58" y="75.00" width="5.40" height="15.00" fill="#00C6C8"/>
<rect x="963.73" y="69.25" width="46.50" height="5.50" fill="#00C6C8"/>
<rect x="963.73" y="72.25" width="46.50" height="5.50" fill="#00C6C8"/>
<rect x="937.88" y="75.85" width="5.40" height="0.35" fill="#00C6C8"/>
<rect x="937.88" y="98.20" width="5.40" height="0.35" fill="#00C6C8"/>
<rect x="917.03" y="73.10" width="46.50" height="5.50" fill="#00C6C8"/>
<rect x="917.03" y="95.80" width="46.50" height="5.50" fill="#00C6C8"/>
<rect x="894.44" y="103.20" width="5.40" height="20.80" fill="#00C6C8"/>
<rect x="894.44" y="146.00" width="5.40" height="20.80" fill="#00C6C8"/>
<rect x="873.59" y="100.45" width="46.50" height="5.50" fill="#00C6C8"/>
<rect x="873.59" y="164.05" width="46.50" height="5.50" fill="#00C6C8"/>
<rect x="854.04" y="195.90" width="5.40" height="44.60" fill="#00C6C8"/>
<rect x="854.04" y="262.50" width="5.40" height="44.60" fill="#00C6C8"/>
<rect x="833.19" y="193.15" width="46.50" height="5.50" fill="#00C6C8"/>
<rect x="833.19" y="304.35" width="46.50" height="5.50" fill="#00C6C8"/>
<rect x="816.47" y="383.00" width="5.40" height="49.25" fill="#00C6C8"/>
<rect x="816.47" y="454.25" width="5.40" height="49.25" fill="#00C6C8"/>
<rect x="795.62" y="380.25" width="46.50" height="5.50" fill="#00C6C8"/>
<rect x="795.62" y="500.75" width="46.50" height="5.50" fill="#00C6C8"/>
<rect x="781.52" y="614.80" width="5.40" height="30.00" fill="#00C6C8"/>
<rect x="781.52" y="666.80" width="5.40" height="30.00" fill="#00C6C8"/>
<rect x="760.67" y="612.05" width="46.50" height="5.50" fill="#00C6C8"/>
<rect x="760.67" y="694.05" width="46.50" height="5.50" fill="#00C6C8"/>
<rect x="749.02" y="795.00" width="5.40" height="6.70" fill="#00C6C8"/>
<rect x="749.02" y="823.70" width="5.40" height="6.70" fill="#00C6C8"/>
<rect x="728.17" y="792.25" width="46.50" height="5.50" fill="#00C6C8"/>
<rect x="728.17" y="827.65" width="46.50" height="5.50" fill="#00C6C8"/>
<rect x="718.79" y="871.45" width="5.40" height="12.05" fill="#00C6C8"/>
<rect x="718.79" y="893.40" width="5.40" height="11.55" fill="#00C6C8"/>
<rect x="697.94" y="880.75" width="46.50" height="5.50" fill="#00C6C8"/>
<rect x="697.94" y="890.65" width="46.50" height="5.50" fill="#00C6C8"/>
<rect x="690.67" y="895.30" width="5.40" height="13.50" fill="#00C6C8"/>
<rect x="690.67" y="915.80" width="5.40" height="13.00" fill="#00C6C8"/>
<rect x="669.82" y="906.05" width="46.50" height="5.50" fill="#00C6C8"/>
<rect x="669.82" y="913.05" width="46.50" height="5.50" fill="#00C6C8"/>
<rect x="664.52" y="898.30" width="5.40" height="13.30" fill="#00C6C8"/>
<rect x="664.52" y="919.00" width="5.40" height="12.80" fill="#00C6C8"/>
<rect x="643.67" y="908.85" width="46.50" height="5.50" fill="#00C6C8"/>
<rect x="643.67" y="916.25" width="46.50" height="5.50" fill="#00C6C8"/>
<rect x="640.20" y="898.20" width="5.40" height="13.30" fill="#00C6C8"/>
<rect x="640.20" y="918.90" width="5.40" height="12.80" fill="#00C6C8"/>
<rect x="619.35" y="908.75" width="46.50" height="5.50" fill="#00C6C8"/>
<rect x="619.35" y="916.15" width="46.50" height="5.50" fill="#00C6C8"/>
<rect x="617.58" y="898.20" width="5.40" height="13.30" fill="#00C6C8"/>
<rect x="617.58" y="918.90" width="5.40" height="12.80" fill="#00C6C8"/>
<rect x="596.73" y="908.75" width="46.50" height="5.50" fill="#00C6C8"/>
<rect x="596.73" y="916.15" width="46.50" height="5.50" fill="#00C6C8"/>
<rect x="596.55" y="898.20" width="5.40" height="13.30" fill="#00C6C8"/>
<rect x="596.55" y="918.90" width="5.40" height="12.80" fill="#00C6C8"/>
<rect x="575.70" y="908.75" width="46.50" height="5.50" fill="#00C6C8"/>
<rect x="575.70" y="916.15" width="46.50" height="5.50" fill="#00C6C8"/>
<rect x="576.98" y="898.20" width="5.40" height="13.30" fill="#00C6C8"/>
<rect x="576.98" y="918.90" width="5.40" height="12.80" fill="#00C6C8"/>
<rect x="556.13" y="908.75" width="46.50" height="5.50" fill="#00C6C8"/>
<rect x="556.13" y="916.15" width="46.50" height="5.50" fill="#00C6C8"/>
<rect x="558.78" y="898.20" width="5.40" height="13.30" fill="#00C6C8"/>
<rect x="558.78" y="918.90" width="5.40" height="12.80" fill="#00C6C8"/>
<rect x="537.93" y="908.75" width="46.50" height="5.50" fill="#00C6C8"/>
<rect x="537.93" y="916.15" width="46.50" height="5.50" fill="#00C6C8"/>
<rect x="541.86" y="898.20" width="5.40" height="13.30" fill="#00C6C8"/>
<rect x="541.86" y="918.90" width="5.40" height="12.80" fill="#00C6C8"/>
<rect x="521.01" y="908.75" width="46.50" height="5.50" fill="#00C6C8"/>
<rect x="521.01" y="916.15" width="46.50" height="5.50" fill="#00C6C8"/>
<rect x="526.12" y="898.20" width="5.40" height="13.30" fill="#00C6C8"/>
<rect x="526.12" y="918.90" width="5.40" height="12.80" fill="#00C6C8"/>
<rect x="505.27" y="908.75" width="46.50" height="5.50" fill="#00C6C8"/>
<rect x="505.27" y="916.15" width="46.50" height="5.50" fill="#00C6C8"/>
<rect x="511.48" y="898.20" width="5.40" height="13.30" fill="#00C6C8"/>
<rect x="511.48" y="918.90" width="5.40" height="12.80" fill="#00C6C8"/>
<rect x="490.63" y="908.75" width="46.50" height="5.50" fill="#00C6C8"/>
<rect x="490.63" y="916.15" width="46.50" height="5.50" fill="#00C6C8"/>
<rect x="497.86" y="898.20" width="5.40" height="13.30" fill="#00C6C8"/>
<rect x="497.86" y="918.90" width="5.40" height="12.80" fill="#00C6C8"/>
<rect x="477.01" y="908.75" width="46.50" height="5.50" fill="#00C6C8"/>
<rect x="477.01" y="916.15" width="46.50" height="5.50" fill="#00C6C8"/>
<rect x="485.20" y="898.20" width="5.40" height="13.30" fill="#00C6C8"/>
<rect x="485.20" y="918.90" width="5.40" height="12.80" fill="#00C6C8"/>
<rect x="464.35" y="908.75" width="46.50" height="5.50" fill="#00C6C8"/>
<rect x="464.35" y="916.15" width="46.50" height="5.50" fill="#00C6C8"/>
<rect x="473.42" y="898.69" width="5.40" height="13.06" fill="#00C6C8"/>
<rect x="473.42" y="919.63" width="5.40" height="12.56" fill="#00C6C8"/>
<rect x="452.57" y="909.00" width="46.50" height="5.50" fill="#00C6C8"/>
<rect x="452.57" y="916.88" width="46.50" height="5.50" fill="#00C6C8"/>
<rect x="462.47" y="899.35" width="5.40" height="13.40" fill="#00C6C8"/>
<rect x="462.47" y="919.95" width="5.40" height="12.90" fill="#00C6C8"/>
<rect x="441.62" y="910.00" width="46.50" height="5.50" fill="#00C6C8"/>
<rect x="441.62" y="917.20" width="46.50" height="5.50" fill="#00C6C8"/>
<rect x="452.28" y="899.86" width="5.40" height="13.59" fill="#00C6C8"/>
<rect x="452.28" y="920.27" width="5.40" height="13.09" fill="#00C6C8"/>
<rect x="431.43" y="910.70" width="46.50" height="5.50" fill="#00C6C8"/>
<rect x="431.43" y="917.52" width="46.50" height="5.50" fill="#00C6C8"/>
<rect x="442.80" y="900.37" width="5.40" height="13.78" fill="#00C6C8"/>
<rect x="442.80" y="920.59" width="5.40" height="13.28" fill="#00C6C8"/>
<rect x="421.95" y="911.40" width="46.50" height="5.50" fill="#00C6C8"/>
<rect x="421.95" y="917.84" width="46.50" height="5.50" fill="#00C6C8"/>
<rect x="433.99" y="900.88" width="5.40" height="13.97" fill="#00C6C8"/>
<rect x="433.99" y="920.91" width="5.40" height="13.47" fill="#00C6C8"/>
<rect x="413.14" y="912.10" width="46.50" height="5.50" fill="#00C6C8"/>
<rect x="413.14" y="918.16" width="46.50" height="5.50" fill="#00C6C8"/>
<rect x="425.79" y="901.54" width="5.40" height="14.31" fill="#00C6C8"/>
<rect x="425.79" y="921.23" width="5.40" height="13.81" fill="#00C6C8"/>
<rect x="404.94" y="913.10" width="46.50" height="5.50" fill="#00C6C8"/>
<rect x="404.94" y="918.48" width="46.50" height="5.50" fill="#00C6C8"/>
<rect x="418.17" y="901.70" width="5.40" height="14.15" fill="#00C6C8"/>
<rect x="418.17" y="921.55" width="5.40" height="13.65" fill="#00C6C8"/>
<rect x="397.32" y="913.10" width="46.50" height="5.50" fill="#00C6C8"/>
<rect x="397.32" y="918.80" width="46.50" height="5.50" fill="#00C6C8"/>
<rect x="411.08" y="902.37" width="5.40" height="14.48" fill="#00C6C8"/>
<rect x="411.08" y="921.89" width="5.40" height="13.98" fill="#00C6C8"/>
<rect x="390.23" y="914.10" width="46.50" height="5.50" fill="#00C6C8"/>
<rect x="390.23" y="919.14" width="46.50" height="5.50" fill="#00C6C8"/>
<rect x="404.49" y="903.08" width="5.40" height="14.87" fill="#00C6C8"/>
<rect x="404.49" y="922.21" width="5.40" height="14.37" fill="#00C6C8"/>
<rect x="383.64" y="915.20" width="46.50" height="5.50" fill="#00C6C8"/>
<rect x="383.64" y="919.46" width="46.50" height="5.50" fill="#00C6C8"/>
<rect x="398.35" y="904.30" width="5.40" height="15.50" fill="#00C6C8"/>
<rect x="398.35" y="922.80" width="5.40" height="15.00" fill="#00C6C8"/>
<rect x="377.50" y="917.05" width="46.50" height="5.50" fill="#00C6C8"/>
<rect x="377.50" y="920.05" width="46.50" height="5.50" fill="#00C6C8"/>
<rect x="392.65" y="905.70" width="5.40" height="16.40" fill="#00C6C8"/>
<rect x="392.65" y="923.30" width="5.40" height="15.90" fill="#00C6C8"/>
<rect x="371.80" y="919.35" width="46.50" height="5.50" fill="#00C6C8"/>
<rect x="371.80" y="920.55" width="46.50" height="5.50" fill="#00C6C8"/>
<rect x="387.35" y="905.70" width="5.40" height="16.40" fill="#00C6C8"/>
<rect x="387.35" y="923.30" width="5.40" height="15.90" fill="#00C6C8"/>
<rect x="366.50" y="919.35" width="46.50" height="5.50" fill="#00C6C8"/>
<rect x="366.50" y="920.55" width="46.50" height="5.50" fill="#00C6C8"/>
<rect x="382.41" y="905.70" width="5.40" height="16.40" fill="#00C6C8"/>
<rect x="382.41" y="923.30" width="5.40" height="15.90" fill="#00C6C8"/>
<rect x="361.56" y="919.35" width="46.50" height="5.50" fill="#00C6C8"/>
<rect x="361.56" y="920.55" width="46.50" height="5.50" fill="#00C6C8"/>
<rect x="377.82" y="905.70" width="5.40" height="16.40" fill="#00C6C8"/>
<rect x="377.82" y="923.30" width="5.40" height="15.90" fill="#00C6C8"/>
<rect x="356.97" y="919.35" width="46.50" height="5.50" fill="#00C6C8"/>
<rect x="356.97" y="920.55" width="46.50" height="5.50" fill="#00C6C8"/>
<rect x="373.55" y="905.70" width="5.40" height="16.40" fill="#00C6C8"/>
<rect x="373.55" y="923.30" width="5.40" height="15.90" fill="#00C6C8"/>
<rect x="352.70" y="919.35" width="46.50" height="5.50" fill="#00C6C8"/>
<rect x="352.70" y="920.55" width="46.50" height="5.50" fill="#00C6C8"/>
<rect x="369.59" y="905.70" width="5.40" height="16.40" fill="#00C6C8"/>
<rect x="369.59" y="923.30" width="5.40" height="15.90" fill="#00C6C8"/>
<rect x="348.74" y="919.35" width="46.50" height="5.50" fill="#00C6C8"/>
<rect x="348.74" y="920.55" width="46.50" height="5.50" fill="#00C6C8"/>
<rect x="365.89" y="905.70" width="5.40" height="16.40" fill="#00C6C8"/>
<rect x="365.89" y="923.30" width="5.40" height="15.90" fill="#00C6C8"/>
<rect x="345.04" y="919.35" width="46.50" height="5.50" fill="#00C6C8"/>
<rect x="345.04" y="920.55" width="46.50" height="5.50" fill="#00C6C8"/>
<rect x="362.46" y="905.70" width="5.40" height="16.40" fill="#00C6C8"/>
<rect x="362.46" y="923.30" width="5.40" height="15.90" fill="#00C6C8"/>
<rect x="341.61" y="919.35" width="46.50" height="5.50" fill="#00C6C8"/>
<rect x="341.61" y="920.55" width="46.50" height="5.50" fill="#00C6C8"/>
<rect x="359.27" y="922.90" width="5.40" height="17.20" fill="#00C6C8"/>
<rect x="338.42" y="920.15" width="46.50" height="5.50" fill="#00C6C8"/>
<rect x="356.30" y="922.90" width="5.40" height="17.20" fill="#00C6C8"/>
<rect x="335.45" y="920.15" width="46.50" height="5.50" fill="#00C6C8"/>
<rect x="1088.80" y="71.90" width="5.40" height="22.00" fill="#2238FF"/>
<rect x="1067.95" y="69.15" width="46.50" height="5.50" fill="#2238FF"/>
<rect x="1034.80" y="51.70" width="5.40" height="19.90" fill="#2238FF"/>
<rect x="1034.80" y="75.80" width="5.40" height="9.90" fill="#2238FF"/>
<rect x="1013.95" y="68.85" width="46.50" height="5.50" fill="#2238FF"/>
<rect x="1013.95" y="73.05" width="46.50" height="5.50" fill="#2238FF"/>
<rect x="984.58" y="61.70" width="5.40" height="15.75" fill="#2238FF"/>
<rect x="984.58" y="89.95" width="5.40" height="5.75" fill="#2238FF"/>
<rect x="963.73" y="74.70" width="46.50" height="5.50" fill="#2238FF"/>
<rect x="963.73" y="87.20" width="46.50" height="5.50" fill="#2238FF"/>
<rect x="937.88" y="93.10" width="5.40" height="9.00" fill="#2238FF"/>
<rect x="937.88" y="122.10" width="5.40" height="6.00" fill="#2238FF"/>
<rect x="917.03" y="99.35" width="46.50" height="5.50" fill="#2238FF"/>
<rect x="917.03" y="125.35" width="46.50" height="5.50" fill="#2238FF"/>
<rect x="894.44" y="170.65" width="5.40" height="9.25" fill="#2238FF"/>
<rect x="894.44" y="199.65" width="5.40" height="5.75" fill="#2238FF"/>
<rect x="873.59" y="177.15" width="46.50" height="5.50" fill="#2238FF"/>
<rect x="873.59" y="202.65" width="46.50" height="5.50" fill="#2238FF"/>
<rect x="854.04" y="311.50" width="5.40" height="16.00" fill="#2238FF"/>
<rect x="854.04" y="339.50" width="5.40" height="6.00" fill="#2238FF"/>
<rect x="833.19" y="324.75" width="46.50" height="5.50" fill="#2238FF"/>
<rect x="833.19" y="336.75" width="46.50" height="5.50" fill="#2238FF"/>
<rect x="816.47" y="483.20" width="5.40" height="18.15" fill="#2238FF"/>
<rect x="816.47" y="525.35" width="5.40" height="28.15" fill="#2238FF"/>
<rect x="795.62" y="480.45" width="46.50" height="5.50" fill="#2238FF"/>
<rect x="795.62" y="550.75" width="46.50" height="5.50" fill="#2238FF"/>
<rect x="781.52" y="642.70" width="5.40" height="33.75" fill="#2238FF"/>
<rect x="781.52" y="700.45" width="5.40" height="43.75" fill="#2238FF"/>
<rect x="760.67" y="639.95" width="46.50" height="5.50" fill="#2238FF"/>
<rect x="760.67" y="741.45" width="46.50" height="5.50" fill="#2238FF"/>
<rect x="749.02" y="773.65" width="5.40" height="24.60" fill="#2238FF"/>
<rect x="749.02" y="822.25" width="5.40" height="34.60" fill="#2238FF"/>
<rect x="728.17" y="770.90" width="46.50" height="5.50" fill="#2238FF"/>
<rect x="728.17" y="854.10" width="46.50" height="5.50" fill="#2238FF"/>
<rect x="718.79" y="857.50" width="5.40" height="5.40" fill="#2238FF"/>
<rect x="718.79" y="886.90" width="5.40" height="15.40" fill="#2238FF"/>
<rect x="697.94" y="854.75" width="46.50" height="5.50" fill="#2238FF"/>
<rect x="697.94" y="899.55" width="46.50" height="5.50" fill="#2238FF"/>
<rect x="690.67" y="885.20" width="5.40" height="14.00" fill="#2238FF"/>
<rect x="690.67" y="914.20" width="5.40" height="1.00" fill="#2238FF"/>
<rect x="669.82" y="896.45" width="46.50" height="5.50" fill="#2238FF"/>
<rect x="669.82" y="912.45" width="46.50" height="5.50" fill="#2238FF"/>
<rect x="664.52" y="893.20" width="5.40" height="19.40" fill="#2238FF"/>
<rect x="664.52" y="917.80" width="5.40" height="9.40" fill="#2238FF"/>
<rect x="643.67" y="909.85" width="46.50" height="5.50" fill="#2238FF"/>
<rect x="643.67" y="915.05" width="46.50" height="5.50" fill="#2238FF"/>
<rect x="640.20" y="895.20" width="5.40" height="20.00" fill="#2238FF"/>
<rect x="640.20" y="919.20" width="5.40" height="10.00" fill="#2238FF"/>
<rect x="619.35" y="912.45" width="46.50" height="5.50" fill="#2238FF"/>
<rect x="619.35" y="916.45" width="46.50" height="5.50" fill="#2238FF"/>
<rect x="617.58" y="896.10" width="5.40" height="20.60" fill="#2238FF"/>
<rect x="617.58" y="919.50" width="5.40" height="10.60" fill="#2238FF"/>
<rect x="596.73" y="913.95" width="46.50" height="5.50" fill="#2238FF"/>
<rect x="596.73" y="916.75" width="46.50" height="5.50" fill="#2238FF"/>
<rect x="596.55" y="896.10" width="5.40" height="20.60" fill="#2238FF"/>
<rect x="596.55" y="919.50" width="5.40" height="10.60" fill="#2238FF"/>
<rect x="575.70" y="913.95" width="46.50" height="5.50" fill="#2238FF"/>
<rect x="575.70" y="916.75" width="46.50" height="5.50" fill="#2238FF"/>
<rect x="576.98" y="896.10" width="5.40" height="20.60" fill="#2238FF"/>
<rect x="576.98" y="919.50" width="5.40" height="10.60" fill="#2238FF"/>
<rect x="556.13" y="913.95" width="46.50" height="5.50" fill="#2238FF"/>
<rect x="556.13" y="916.75" width="46.50" height="5.50" fill="#2238FF"/>
<rect x="558.78" y="896.10" width="5.40" height="20.60" fill="#2238FF"/>
<rect x="558.78" y="919.50" width="5.40" height="10.60" fill="#2238FF"/>
<rect x="537.93" y="913.95" width="46.50" height="5.50" fill="#2238FF"/>
<rect x="537.93" y="916.75" width="46.50" height="5.50" fill="#2238FF"/>
<rect x="541.86" y="896.10" width="5.40" height="20.60" fill="#2238FF"/>
<rect x="541.86" y="919.50" width="5.40" height="10.60" fill="#2238FF"/>
<rect x="521.01" y="913.95" width="46.50" height="5.50" fill="#2238FF"/>
<rect x="521.01" y="916.75" width="46.50" height="5.50" fill="#2238FF"/>
<rect x="526.12" y="896.10" width="5.40" height="20.60" fill="#2238FF"/>
<rect x="526.12" y="919.50" width="5.40" height="10.60" fill="#2238FF"/>
<rect x="505.27" y="913.95" width="46.50" height="5.50" fill="#2238FF"/>
<rect x="505.27" y="916.75" width="46.50" height="5.50" fill="#2238FF"/>
<rect x="511.48" y="896.10" width="5.40" height="20.60" fill="#2238FF"/>
<rect x="511.48" y="919.50" width="5.40" height="10.60" fill="#2238FF"/>
<rect x="490.63" y="913.95" width="46.50" height="5.50" fill="#2238FF"/>
<rect x="490.63" y="916.75" width="46.50" height="5.50" fill="#2238FF"/>
<rect x="497.86" y="896.10" width="5.40" height="20.60" fill="#2238FF"/>
<rect x="497.86" y="919.50" width="5.40" height="10.60" fill="#2238FF"/>
<rect x="477.01" y="913.95" width="46.50" height="5.50" fill="#2238FF"/>
<rect x="477.01" y="916.75" width="46.50" height="5.50" fill="#2238FF"/>
<rect x="485.20" y="896.10" width="5.40" height="20.60" fill="#2238FF"/>
<rect x="485.20" y="919.50" width="5.40" height="10.60" fill="#2238FF"/>
<rect x="464.35" y="913.95" width="46.50" height="5.50" fill="#2238FF"/>
<rect x="464.35" y="916.75" width="46.50" height="5.50" fill="#2238FF"/>
<rect x="473.42" y="896.42" width="5.40" height="20.60" fill="#2238FF"/>
<rect x="473.42" y="919.82" width="5.40" height="10.60" fill="#2238FF"/>
<rect x="452.57" y="914.27" width="46.50" height="5.50" fill="#2238FF"/>
<rect x="452.57" y="917.07" width="46.50" height="5.50" fill="#2238FF"/>
<rect x="462.47" y="896.74" width="5.40" height="20.60" fill="#2238FF"/>
<rect x="462.47" y="920.14" width="5.40" height="10.60" fill="#2238FF"/>
<rect x="441.62" y="914.59" width="46.50" height="5.50" fill="#2238FF"/>
<rect x="441.62" y="917.39" width="46.50" height="5.50" fill="#2238FF"/>
<rect x="452.28" y="897.07" width="5.40" height="20.60" fill="#2238FF"/>
<rect x="452.28" y="920.47" width="5.40" height="10.60" fill="#2238FF"/>
<rect x="431.43" y="914.92" width="46.50" height="5.50" fill="#2238FF"/>
<rect x="431.43" y="917.72" width="46.50" height="5.50" fill="#2238FF"/>
<rect x="442.80" y="897.39" width="5.40" height="20.60" fill="#2238FF"/>
<rect x="442.80" y="920.79" width="5.40" height="10.60" fill="#2238FF"/>
<rect x="421.95" y="915.24" width="46.50" height="5.50" fill="#2238FF"/>
<rect x="421.95" y="918.04" width="46.50" height="5.50" fill="#2238FF"/>
<rect x="433.99" y="897.71" width="5.40" height="20.60" fill="#2238FF"/>
<rect x="433.99" y="921.11" width="5.40" height="10.60" fill="#2238FF"/>
<rect x="413.14" y="915.56" width="46.50" height="5.50" fill="#2238FF"/>
<rect x="413.14" y="918.36" width="46.50" height="5.50" fill="#2238FF"/>
<rect x="425.79" y="898.03" width="5.40" height="20.60" fill="#2238FF"/>
<rect x="425.79" y="921.43" width="5.40" height="10.60" fill="#2238FF"/>
<rect x="404.94" y="915.88" width="46.50" height="5.50" fill="#2238FF"/>
<rect x="404.94" y="918.68" width="46.50" height="5.50" fill="#2238FF"/>
<rect x="418.17" y="898.36" width="5.40" height="20.60" fill="#2238FF"/>
<rect x="418.17" y="921.76" width="5.40" height="10.60" fill="#2238FF"/>
<rect x="397.32" y="916.21" width="46.50" height="5.50" fill="#2238FF"/>
<rect x="397.32" y="919.01" width="46.50" height="5.50" fill="#2238FF"/>
<rect x="411.08" y="898.68" width="5.40" height="20.60" fill="#2238FF"/>
<rect x="411.08" y="922.08" width="5.40" height="10.60" fill="#2238FF"/>
<rect x="390.23" y="916.53" width="46.50" height="5.50" fill="#2238FF"/>
<rect x="390.23" y="919.33" width="46.50" height="5.50" fill="#2238FF"/>
<rect x="404.49" y="899.00" width="5.40" height="20.60" fill="#2238FF"/>
<rect x="404.49" y="922.40" width="5.40" height="10.60" fill="#2238FF"/>
<rect x="383.64" y="916.85" width="46.50" height="5.50" fill="#2238FF"/>
<rect x="383.64" y="919.65" width="46.50" height="5.50" fill="#2238FF"/>
<rect x="398.35" y="899.60" width="5.40" height="21.00" fill="#2238FF"/>
<rect x="398.35" y="922.60" width="5.40" height="11.00" fill="#2238FF"/>
<rect x="377.50" y="917.85" width="46.50" height="5.50" fill="#2238FF"/>
<rect x="377.50" y="919.85" width="46.50" height="5.50" fill="#2238FF"/>
<rect x="392.65" y="900.00" width="5.40" height="21.00" fill="#2238FF"/>
<rect x="392.65" y="923.00" width="5.40" height="11.00" fill="#2238FF"/>
<rect x="371.80" y="918.25" width="46.50" height="5.50" fill="#2238FF"/>
<rect x="371.80" y="920.25" width="46.50" height="5.50" fill="#2238FF"/>
<rect x="387.35" y="900.00" width="5.40" height="21.00" fill="#2238FF"/>
<rect x="387.35" y="923.00" width="5.40" height="11.00" fill="#2238FF"/>
<rect x="366.50" y="918.25" width="46.50" height="5.50" fill="#2238FF"/>
<rect x="366.50" y="920.25" width="46.50" height="5.50" fill="#2238FF"/>
<rect x="382.41" y="922.80" width="5.40" height="22.00" fill="#2238FF"/>
<rect x="361.56" y="920.05" width="46.50" height="5.50" fill="#2238FF"/>
<rect x="377.82" y="900.00" width="5.40" height="21.00" fill="#2238FF"/>
<rect x="377.82" y="923.00" width="5.40" height="11.00" fill="#2238FF"/>
<rect x="356.97" y="918.25" width="46.50" height="5.50" fill="#2238FF"/>
<rect x="356.97" y="920.25" width="46.50" height="5.50" fill="#2238FF"/>
<rect x="373.55" y="922.80" width="5.40" height="22.00" fill="#2238FF"/>
<rect x="352.70" y="920.05" width="46.50" height="5.50" fill="#2238FF"/>
<rect x="369.59" y="900.80" width="5.40" height="21.00" fill="#2238FF"/>
<rect x="369.59" y="923.80" width="5.40" height="11.00" fill="#2238FF"/>
<rect x="348.74" y="919.05" width="46.50" height="5.50" fill="#2238FF"/>
<rect x="348.74" y="921.05" width="46.50" height="5.50" fill="#2238FF"/>
<rect x="365.89" y="922.80" width="5.40" height="22.00" fill="#2238FF"/>
<rect x="345.04" y="920.05" width="46.50" height="5.50" fill="#2238FF"/>
</g>
<g shape-rendering="crispEdges">
<rect x="266.00" y="27.00" width="1171.00" height="5.00" fill="#000000"/>
<rect x="266.00" y="963.00" width="1171.00" height="5.00" fill="#000000"/>
<rect x="266.00" y="27.00" width="6.00" height="941.00" fill="#000000"/>
<rect x="1431.00" y="27.00" width="6.00" height="941.00" fill="#000000"/>
<rect x="250.00" y="920.05" width="16.00" height="5.50" fill="#000000"/>
<rect x="259.00" y="834.94" width="7.00" height="5.50" fill="#000000"/>
<rect x="250.00" y="749.83" width="16.00" height="5.50" fill="#000000"/>
<rect x="259.00" y="664.72" width="7.00" height="5.50" fill="#000000"/>
<rect x="250.00" y="579.61" width="16.00" height="5.50" fill="#000000"/>
<rect x="259.00" y="494.50" width="7.00" height="5.50" fill="#000000"/>
<rect x="250.00" y="409.39" width="16.00" height="5.50" fill="#000000"/>
<rect x="259.00" y="324.28" width="7.00" height="5.50" fill="#000000"/>
<rect x="250.00" y="239.17" width="16.00" height="5.50" fill="#000000"/>
<rect x="259.00" y="154.06" width="7.00" height="5.50" fill="#000000"/>
<rect x="250.00" y="68.95" width="16.00" height="5.50" fill="#000000"/>
<rect x="316.75" y="968.00" width="5.50" height="16.00" fill="#000000"/>
<rect x="418.10" y="968.00" width="5.50" height="7.00" fill="#000000"/>
<rect x="519.45" y="968.00" width="5.50" height="16.00" fill="#000000"/>
<rect x="620.80" y="968.00" width="5.50" height="7.00" fill="#000000"/>
<rect x="722.15" y="968.00" width="5.50" height="16.00" fill="#000000"/>
<rect x="823.50" y="968.00" width="5.50" height="7.00" fill="#000000"/>
<rect x="924.85" y="968.00" width="5.50" height="16.00" fill="#000000"/>
<rect x="1026.20" y="968.00" width="5.50" height="7.00" fill="#000000"/>
<rect x="1127.55" y="968.00" width="5.50" height="16.00" fill="#000000"/>
<rect x="1228.90" y="968.00" width="5.50" height="7.00" fill="#000000"/>
<rect x="1330.25" y="968.00" width="5.50" height="16.00" fill="#000000"/>
<rect x="1431.00" y="968.00" width="6.00" height="7.00" fill="#000000"/>
</g>
<rect x="852.5" y="599.3" width="573.0" height="356.0" fill="#ffffff" stroke="#000" stroke-width="1.5" shape-rendering="crispEdges"/>
<g shape-rendering="crispEdges">
<rect x="858.00" y="639.75" width="144.90" height="5.30" fill="#009000"/>
<rect x="917.20" y="628.60" width="27.60" height="27.60" fill="#009000"/>
<rect x="859.80" y="729.80" width="141.10" height="6.20" fill="#00C6C8"/>
<circle cx="930.50" cy="733.00" r="15.7" fill="#00C6C8"/>
<rect x="859.80" y="820.80" width="141.50" height="6.40" fill="#2238FF"/>
<polygon points="929.40,803.00 931.80,803.00 949.35,835.50 911.85,835.50" fill="#2238FF"/>
</g>
<g filter="url(#bin50)">
<text x="198.00" y="944.30" font-size="70" letter-spacing="0.169" xml:space="preserve">0</text>
<text x="158.90" y="774.30" font-size="70" letter-spacing="0.169" xml:space="preserve">20</text>
<text x="158.90" y="604.30" font-size="70" letter-spacing="0.169" xml:space="preserve">40</text>
<text x="158.90" y="434.30" font-size="70" letter-spacing="0.169" xml:space="preserve">60</text>
<text x="158.90" y="264.30" font-size="70" letter-spacing="0.169" xml:space="preserve">80</text>
<path transform="translate(119.80,94.30) scale(0.03418,-0.03418)" d="M763 0H583V1147Q518 1085 412.5 1023T223 930V1104Q374 1175 487 1276T647 1472H763Z" fill="#000"/>
<text x="158.90" y="94.30" font-size="70" letter-spacing="0.169" xml:space="preserve">00</text>
<text x="300.20" y="1052.20" font-size="70" letter-spacing="0.669" xml:space="preserve">0</text>
<text x="462.10" y="1052.20" font-size="70" letter-spacing="0.669" xml:space="preserve">200</text>
<text x="666.05" y="1052.20" font-size="70" letter-spacing="0.669" xml:space="preserve">400</text>
<text x="867.50" y="1052.20" font-size="70" letter-spacing="0.669" xml:space="preserve">600</text>
<text x="1071.55" y="1052.20" font-size="70" letter-spacing="0.669" xml:space="preserve">800</text>
<path transform="translate(1253.55,1052.20) scale(0.03418,-0.03418)" d="M763 0H583V1147Q518 1085 412.5 1023T223 930V1104Q374 1175 487 1276T647 1472H763Z" fill="#000"/>
<text x="1293.15" y="1052.20" font-size="70" letter-spacing="0.669" xml:space="preserve">000</text>
</g>
<g filter="url(#bin)">
<text x="851.9" y="1171.8" font-size="79.8" text-anchor="middle">particle size <tspan font-style="italic">x</tspan> in nm</text>
<g transform="translate(77.3,674.7) rotate(-90)"><text x="0" y="0" font-size="79.8" transform="scale(1,1.04)">O</text><text x="57.87" y="0" font-size="54" transform="translate(0,20) scale(1,1.04)">3</text><text x="87.90" y="0" font-size="79.8" font-style="italic">(x)</text><text x="180.95" y="0" font-size="79.8" xml:space="preserve"> in </text><text x="287.40" y="0" font-size="79.8" transform="scale(1,1.04)">%</text><line x1="30.5" y1="-13.7" x2="49.7" y2="5.1" stroke="#000" stroke-width="6.2"/></g>
<text x="1018.0" y="664.3" font-size="63.1">SiO<tspan font-size="43.5" dy="16.5">2</tspan></text>
<text x="1018.0" y="755.4" font-size="63.1">SnO<tspan font-size="43.5" dy="16.5">2</tspan></text>
<path transform="translate(1018.00,845.00) scale(0.03081,-0.03081)" d="M763 0H583V1147Q518 1085 412.5 1023T223 930V1104Q374 1175 487 1276T647 1472H763Z" fill="#000"/>
<text x="1053.09" y="845.00" font-size="63.1" xml:space="preserve">:</text>
<path transform="translate(1070.62,845.00) scale(0.03081,-0.03081)" d="M763 0H583V1147Q518 1085 412.5 1023T223 930V1104Q374 1175 487 1276T647 1472H763Z" fill="#000"/>
<text x="1105.72" y="845.00" font-size="63.1" xml:space="preserve"> mixture of</text>
<text x="1018.0" y="921.6" font-size="63.1">SiO<tspan font-size="43.5" dy="16.5">2</tspan><tspan dy="-16.5">+SnO</tspan><tspan font-size="43.5" dy="16.5">2</tspan></text>
</g>
</svg>
</body>
</html>
